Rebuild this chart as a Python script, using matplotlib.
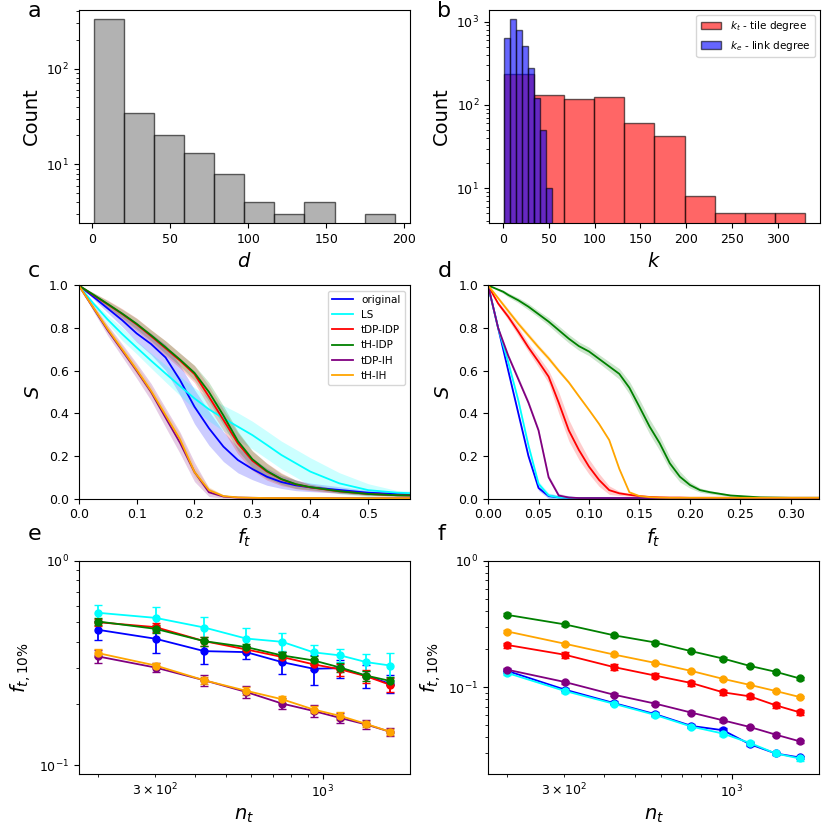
import numpy as np
import matplotlib
matplotlib.use('Agg')
import matplotlib.pyplot as plt
from matplotlib.ticker import FuncFormatter

# ---- panel a : histogram of d
d_edges = np.linspace(1, 194, 11)
d_counts = [330, 34, 20, 13, 8, 4, 3, 4, 0, 3]

# ---- panel b : tile degree / link degree histograms
kt_edges = np.linspace(1, 330, 11)
kt_counts = [232, 132, 119, 124, 61, 42, 8, 5, 5, 5]
ke_edges = np.linspace(1, 54, 9)
ke_counts = [631, 1078, 801, 505, 277, 120, 50, 10]

labels = ['original', 'LS', 'tDP-lDP', 'tH-lDP', 'tDP-lH', 'tH-lH']
colors = ['blue', 'cyan', 'red', 'green', 'purple', 'orange']

# ---- panel c : S vs f_t
fc = [0, 0.025, 0.05, 0.075, 0.1, 0.125, 0.15, 0.175, 0.2, 0.225, 0.25,
      0.275, 0.3, 0.325, 0.35, 0.375, 0.4, 0.45, 0.5, 0.55, 0.58]
c_original = [1.0, 0.947, 0.892, 0.837, 0.775, 0.725, 0.662, 0.556, 0.431, 0.33, 0.244,
              0.181, 0.139, 0.103, 0.078, 0.0625, 0.053, 0.041, 0.028, 0.022, 0.02]
c_ls = [1.0, 0.916, 0.84, 0.772, 0.709, 0.647, 0.587, 0.528, 0.47, 0.419, 0.377,
        0.3375, 0.298, 0.252, 0.205, 0.166, 0.127, 0.072, 0.04, 0.028, 0.025]
c_tdp_ldp = [1.0, 0.955, 0.911, 0.866, 0.817, 0.762, 0.705, 0.647, 0.584, 0.478, 0.369,
             0.259, 0.178, 0.127, 0.091, 0.067, 0.053, 0.034, 0.022, 0.016, 0.015]
c_th_ldp = [1.0, 0.957, 0.913, 0.868, 0.82, 0.766, 0.71, 0.652, 0.59, 0.50, 0.39,
            0.27, 0.185, 0.13, 0.092, 0.068, 0.054, 0.035, 0.022, 0.016, 0.015]
c_tdp_lh = [1.0, 0.895, 0.79, 0.695, 0.60, 0.50, 0.38, 0.262, 0.125, 0.03, 0.01,
            0.005, 0.004, 0.003, 0.003, 0.003, 0.003, 0.002, 0.002, 0.002, 0.002]
c_th_lh = [1.0, 0.897, 0.795, 0.70, 0.605, 0.505, 0.392, 0.278, 0.125, 0.04, 0.012,
           0.006, 0.004, 0.003, 0.003, 0.003, 0.003, 0.002, 0.002, 0.002, 0.002]
c_S = [c_original, c_ls, c_tdp_ldp, c_th_ldp, c_tdp_lh, c_th_lh]
c_err = [
    [0, 0.01, 0.02, 0.03, 0.04, 0.05, 0.06, 0.07, 0.08, 0.08, 0.07, 0.06, 0.05, 0.04, 0.03, 0.025, 0.02, 0.015, 0.01, 0.01, 0.01],
    [0, 0.01, 0.02, 0.03, 0.03, 0.035, 0.04, 0.045, 0.05, 0.055, 0.06, 0.065, 0.065, 0.065, 0.065, 0.065, 0.065, 0.05, 0.03, 0.01, 0.01],
    [0, 0.01, 0.02, 0.025, 0.03, 0.03, 0.035, 0.035, 0.04, 0.05, 0.05, 0.05, 0.045, 0.04, 0.03, 0.02, 0.015, 0.01, 0.008, 0.005, 0.005],
    [0, 0.01, 0.015, 0.02, 0.025, 0.025, 0.03, 0.03, 0.035, 0.045, 0.045, 0.045, 0.04, 0.035, 0.025, 0.02, 0.012, 0.008, 0.006, 0.005, 0.005],
    [0, 0.015, 0.025, 0.03, 0.035, 0.04, 0.045, 0.05, 0.045, 0.02, 0.008, 0.004, 0.002, 0.001, 0.001, 0.001, 0.001, 0.001, 0.001, 0.001, 0.001],
    [0, 0.01, 0.015, 0.015, 0.02, 0.02, 0.02, 0.025, 0.025, 0.015, 0.006, 0.003, 0.002, 0.001, 0.001, 0.001, 0.001, 0.001, 0.001, 0.001, 0.001],
]

# ---- panel d : S vs f_t (second network)
fd = [0, 0.005, 0.01, 0.015, 0.02, 0.03, 0.04, 0.05, 0.06, 0.07, 0.08, 0.09, 0.1,
      0.11, 0.12, 0.13, 0.14, 0.15, 0.16, 0.17, 0.18, 0.19, 0.2, 0.21, 0.22,
      0.24, 0.27, 0.3, 0.33]
d_original = [1.0, 0.90, 0.80, 0.70, 0.60, 0.40, 0.20, 0.05, 0.012, 0.006, 0.004, 0.003, 0.003,
              0.003, 0.003, 0.003, 0.003, 0.003, 0.003, 0.003, 0.003, 0.003, 0.003, 0.003, 0.003,
              0.003, 0.003, 0.003, 0.003]
d_ls = [1.0, 0.90, 0.80, 0.72, 0.64, 0.46, 0.25, 0.07, 0.015, 0.006, 0.004, 0.003, 0.003,
        0.003, 0.003, 0.003, 0.003, 0.003, 0.003, 0.003, 0.003, 0.003, 0.003, 0.003, 0.003,
        0.003, 0.003, 0.003, 0.003]
d_tdp_ldp = [1.0, 0.957, 0.915, 0.884, 0.853, 0.783, 0.709, 0.642, 0.572, 0.45, 0.32, 0.228, 0.15,
             0.0875, 0.04, 0.025, 0.018, 0.012, 0.008, 0.006, 0.005, 0.005, 0.004, 0.004, 0.004,
             0.004, 0.004, 0.004, 0.004]
d_th_ldp = [1.0, 0.99, 0.98, 0.97, 0.955, 0.93, 0.90, 0.865, 0.83, 0.79, 0.75, 0.715, 0.69,
            0.655, 0.62, 0.585, 0.52, 0.43, 0.338, 0.26, 0.166, 0.103, 0.064, 0.04, 0.03,
            0.015, 0.006, 0.004, 0.004]
d_tdp_lh = [1.0, 0.90, 0.80, 0.735, 0.67, 0.56, 0.45, 0.32, 0.10, 0.015, 0.005, 0.003, 0.003,
            0.003, 0.003, 0.003, 0.003, 0.003, 0.003, 0.003, 0.003, 0.003, 0.003, 0.003, 0.003,
            0.003, 0.003, 0.003, 0.003]
d_th_lh = [1.0, 0.97, 0.94, 0.91, 0.88, 0.82, 0.765, 0.71, 0.658, 0.60, 0.545, 0.48, 0.416,
           0.35, 0.275, 0.14, 0.03, 0.012, 0.007, 0.005, 0.004, 0.004, 0.004, 0.004, 0.004,
           0.004, 0.004, 0.004, 0.004]
d_S = [d_original, d_ls, d_tdp_ldp, d_th_ldp, d_tdp_lh, d_th_lh]
d_err_ldp = [0, 0.005, 0.01, 0.012, 0.015, 0.02, 0.02, 0.025, 0.03, 0.05, 0.05, 0.045, 0.035,
             0.03, 0.02, 0.01, 0.006, 0.004, 0.003, 0.002, 0.002, 0.002, 0.001, 0.001, 0.001,
             0.001, 0.001, 0.001, 0.001]
d_err_th = [0, 0.003, 0.005, 0.008, 0.01, 0.012, 0.015, 0.015, 0.018, 0.02, 0.02, 0.02, 0.02,
            0.02, 0.022, 0.025, 0.03, 0.035, 0.035, 0.035, 0.03, 0.025, 0.015, 0.01, 0.008,
            0.005, 0.002, 0.001, 0.001]
d_err_small = [0, 0.005, 0.008, 0.01, 0.01, 0.012, 0.012, 0.012, 0.012, 0.01, 0.008, 0.006, 0.005,
               0.005, 0.005, 0.004, 0.003, 0.002, 0.001, 0.001, 0.001, 0.001, 0.001, 0.001, 0.001,
               0.001, 0.001, 0.001, 0.001]
d_err = [d_err_small, d_err_small, d_err_ldp, d_err_th, d_err_small, d_err_small]

# ---- panels e, f : f_t,10% vs n_t
n_t = [200, 302, 428, 578, 748, 938, 1136, 1368, 1624]
e_vals = [
    [0.459, 0.415, 0.361, 0.357, 0.319, 0.296, 0.298, 0.273, 0.250],
    [0.556, 0.525, 0.471, 0.416, 0.401, 0.356, 0.344, 0.319, 0.307],
    [0.500, 0.473, 0.404, 0.368, 0.338, 0.311, 0.294, 0.272, 0.247],
    [0.504, 0.464, 0.404, 0.378, 0.344, 0.325, 0.300, 0.274, 0.258],
    [0.340, 0.300, 0.260, 0.228, 0.200, 0.184, 0.170, 0.158, 0.1455],
    [0.353, 0.307, 0.260, 0.231, 0.210, 0.187, 0.174, 0.159, 0.1455],
]
e_errs = [
    [0.05, 0.06, 0.05, 0.025, 0.04, 0.05, 0.03, 0.035, 0.025],
    [0.05, 0.07, 0.06, 0.05, 0.04, 0.03, 0.025, 0.03, 0.045],
    [0.02, 0.025, 0.02, 0.015, 0.02, 0.02, 0.02, 0.02, 0.02],
    [0.02, 0.02, 0.02, 0.015, 0.015, 0.015, 0.015, 0.015, 0.012],
    [0.025, 0.015, 0.015, 0.015, 0.012, 0.012, 0.01, 0.008, 0.006],
    [0.015, 0.01, 0.01, 0.01, 0.008, 0.008, 0.007, 0.006, 0.005],
]
f_vals = [
    [0.134, 0.0953, 0.0748, 0.0609, 0.0492, 0.0455, 0.0353, 0.0298, 0.0277],
    [0.129, 0.093, 0.0738, 0.060, 0.0486, 0.0428, 0.0361, 0.0298, 0.0272],
    [0.215, 0.180, 0.144, 0.123, 0.1075, 0.0908, 0.0844, 0.0717, 0.0631],
    [0.372, 0.313, 0.257, 0.225, 0.192, 0.168, 0.147, 0.132, 0.117],
    [0.137, 0.1095, 0.087, 0.0738, 0.0627, 0.0545, 0.0483, 0.042, 0.0372],
    [0.275, 0.220, 0.181, 0.155, 0.134, 0.116, 0.104, 0.093, 0.0834],
]
f_errs = [
    [0.004, 0.003, 0.002, 0.002, 0.0015, 0.0015, 0.0012, 0.001, 0.001],
    [0.004, 0.003, 0.002, 0.002, 0.0015, 0.0015, 0.0012, 0.001, 0.001],
    [0.01, 0.009, 0.007, 0.006, 0.005, 0.004, 0.004, 0.0035, 0.003],
    [0.01, 0.008, 0.006, 0.005, 0.004, 0.004, 0.003, 0.003, 0.003],
    [0.004, 0.003, 0.002, 0.002, 0.0015, 0.0015, 0.0012, 0.001, 0.001],
    [0.006, 0.005, 0.004, 0.003, 0.003, 0.002, 0.002, 0.002, 0.002],
]

TICK = 9
LAB = 14

fig = plt.figure(figsize=(8.3, 8.3), dpi=100)
W, H = 0.399, 0.257
axa = fig.add_axes([0.0948, 0.731, W, H])
axb = fig.add_axes([0.589, 0.731, W, H])
axc = fig.add_axes([0.0948, 0.3992, W, H])
axd = fig.add_axes([0.588, 0.3992, W, H])
axe = fig.add_axes([0.0948, 0.0675, W, H])
axf = fig.add_axes([0.588, 0.0675, W, H])

# a
axa.hist(d_edges[:-1], bins=d_edges, weights=d_counts, color='gray', alpha=0.6,
         edgecolor='black', log=True)
axa.set_ylim(2.42, 410)
axa.set_xlabel('$d$', fontsize=LAB)
axa.set_ylabel('Count', fontsize=LAB)

# b
axb.hist(kt_edges[:-1], bins=kt_edges, weights=kt_counts, color='red', alpha=0.6,
         edgecolor='black', log=True, label='$k_t$ - tile degree')
axb.hist(ke_edges[:-1], bins=ke_edges, weights=ke_counts, color='blue', alpha=0.6,
         edgecolor='black', log=True, label='$k_e$ - link degree')
axb.set_ylim(3.8, 1380)
axb.set_xlabel('$k$', fontsize=LAB)
axb.set_ylabel('Count', fontsize=LAB)
axb.legend(loc='upper right', fontsize=7.5)

# c, d
for ax, fx, curves, errs, xmax in [(axc, fc, c_S, c_err, 0.572), (axd, fd, d_S, d_err, 0.328)]:
    for s, e, lab, col in zip(curves, errs, labels, colors):
        s = np.array(s)
        e = np.array(e)
        ax.fill_between(fx, s - e, s + e, color=col, alpha=0.2, lw=0)
        ax.plot(fx, s, color=col, lw=1.3, label=lab)
    ax.set_xlim(0, xmax)
    ax.set_ylim(0, 1)
    ax.set_xlabel('$f_t$', fontsize=LAB)
    ax.set_ylabel('$S$', fontsize=LAB)
axc.legend(loc='upper right', fontsize=7.5)

# e, f
minor_fmt = lambda v, p: r'$\mathdefault{3\times10^{2}}$' if abs(v - 300) < 1 else ''
for ax, vals, errs, ylo in [(axe, e_vals, e_errs, 0.0905), (axf, f_vals, f_errs, 0.0205)]:
    for v, e, lab, col in zip(vals, errs, labels, colors):
        ax.errorbar(n_t, v, yerr=e, color=col, marker='o', ms=5, lw=1.3,
                    capsize=3, label=lab)
    ax.set_xscale('log')
    ax.set_yscale('log')
    ax.set_xlim(174, 1870)
    ax.set_ylim(ylo, 1.0)
    ax.xaxis.set_minor_formatter(FuncFormatter(minor_fmt))
    ax.set_xlabel('$n_t$', fontsize=LAB)
    ax.set_ylabel('$f_{t,10\\%}$', fontsize=LAB)

for ax in [axa, axb, axc, axd, axe, axf]:
    ax.tick_params(which='both', labelsize=TICK)

for x, y, t in [(0.033, 0.9795, 'a'), (0.527, 0.9795, 'b'),
                (0.033, 0.666, 'c'), (0.527, 0.666, 'd'),
                (0.033, 0.349, 'e'), (0.527, 0.349, 'f')]:
    fig.text(x, y, t, fontsize=16)

fig.savefig('out.png', dpi=100)
